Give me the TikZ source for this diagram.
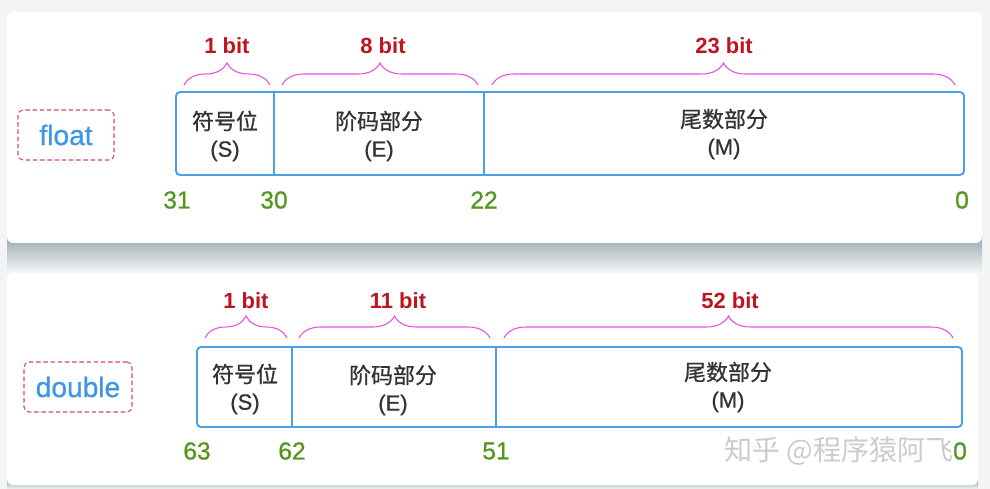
\documentclass[tikz,border=0pt]{standalone}
\usepackage{fontspec}
\setmainfont{Liberation Sans}
\newfontfamily\cjk[FakeBold=0.8]{Noto Sans CJK SC}
\newfontfamily\cjkmark{Noto Sans CJK SC}
\newfontfamily\medfont[FakeBold=0.8]{Liberation Sans}
\usetikzlibrary{decorations.pathreplacing}
\definecolor{bggray}{RGB}{242,244,245}
\definecolor{shadowgray}{RGB}{150,168,174}
\definecolor{boxblue}{RGB}{74,160,228}
\definecolor{typeblue}{RGB}{62,150,232}
\definecolor{dashred}{RGB}{205,80,90}
\definecolor{bitred}{RGB}{190,20,30}
\definecolor{bracepink}{RGB}{228,80,228}
\definecolor{numgreen}{RGB}{85,150,30}
\definecolor{textgray}{RGB}{51,51,51}
\begin{document}
\begin{tikzpicture}[x=0.02cm,y=-0.02cm]
	\tikzset{
		% nen va khung
		panel/.style={fill=white,rounded corners=0.12cm},
		fieldbox/.style={draw=boxblue,line width=1.1pt,rounded corners=0.08cm},
		divider/.style={draw=boxblue,line width=1.1pt},
		%
		typebox/.style={draw=dashred,dash pattern=on 2.5pt off 1.6pt,line width=0.6pt,rounded corners=0.1cm,text=typeblue,font=\medfont\fontsize{16}{18}\selectfont,inner sep=0pt},
		% chu trong o
		cell/.style={align=center,text=textgray,font=\medfont\fontsize{12.5}{15.5}\selectfont},
		% so bit
		bitlabel/.style={text=bitred,font=\bfseries\fontsize{12.5}{15}\selectfont},
		bitbrace/.style={draw=bracepink,line width=0.6pt,decorate,decoration={brace,amplitude=0.44cm}},
		% vi tri bit
		bitpos/.style={text=numgreen,font=\medfont\fontsize{14}{16}\selectfont},
	}
	\useasboundingbox (0,0) rectangle (990,489);
	\fill[bggray] (0,0) rectangle (990,489);
	\shade[top color=shadowgray,bottom color=bggray] (7,236) rectangle (982,272);
	\shade[top color=shadowgray,bottom color=bggray] (7,480) rectangle (978,489);
	\fill[panel] (7,12) rectangle (982,243);
	\fill[panel] (7,273) rectangle (978,485);
	%
	% float
	\node[typebox,minimum width=1.92cm,minimum height=1cm] (tf) at (66,135) {float};
	\draw[fieldbox] (176,92) rectangle (964,175);
	\draw[divider] (274,92)--(274,175) (484,92)--(484,175);
	\node[cell] (s1) at (225,136) {{\cjk 符号位}\\(S)};
	\node[cell] (e1) at (379,136) {{\cjk 阶码部分}\\(E)};
	\node[cell] (m1) at (724,134) {{\cjk 尾数部分}\\(M)};
	%
	\draw[bitbrace] (184,85)--(270,85);
	\draw[bitbrace] (282,85)--(478,85);
	\draw[bitbrace] (492,85)--(955,85);
	\node[bitlabel] (b1) at (227,46) {1 bit};
	\node[bitlabel] (b2) at (383,46) {8 bit};
	\node[bitlabel] (b3) at (724,46) {23 bit};
	%
	\node[bitpos] (p31) at (177,200) {31};
	\node[bitpos] (p30) at (274,200) {30};
	\node[bitpos] (p22) at (484,200) {22};
	\node[bitpos] (p0) at (962,200) {0};
	%
	% double
	\node[typebox,minimum width=2.16cm,minimum height=1cm] (td) at (78,387) {double};
	\draw[fieldbox] (197,347) rectangle (962,427);
	\draw[divider] (292,347)--(292,427) (496,347)--(496,427);
	\node[cell] (s2) at (245,389) {{\cjk 符号位}\\(S)};
	\node[cell] (e2) at (393,390) {{\cjk 阶码部分}\\(E)};
	\node[cell] (m2) at (728,387) {{\cjk 尾数部分}\\(M)};
	%
	\draw[bitbrace] (205,338)--(287,338);
	\draw[bitbrace] (299,338)--(490,338);
	\draw[bitbrace] (504,338)--(953,338);
	\node[bitlabel] (b4) at (246,301) {1 bit};
	\node[bitlabel] (b5) at (398,301) {11 bit};
	\node[bitlabel] (b6) at (730,301) {52 bit};
	%
	\node[bitpos] (p63) at (197,451) {63};
	\node[bitpos] (p62) at (292,451) {62};
	\node[bitpos] (p51) at (496,451) {51};
	\node[text=gray!40,font=\cjkmark\fontsize{16}{18}\selectfont,anchor=east] (wm) at (960,451) {知乎 @程序猿阿飞};
	\node[bitpos] (p0d) at (960,451) {0};
\end{tikzpicture}
\end{document}
